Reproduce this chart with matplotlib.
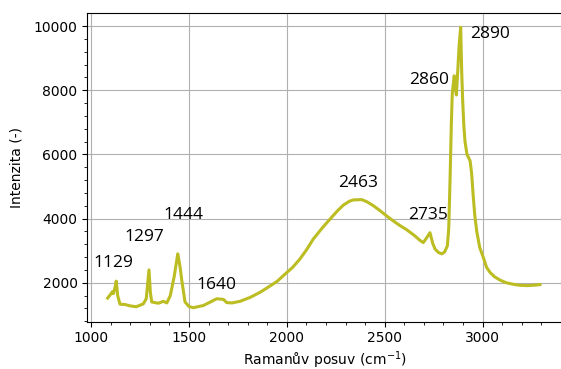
import matplotlib
matplotlib.use("Agg")
import matplotlib.pyplot as plt
from matplotlib.ticker import MultipleLocator

# Raman shift (cm^-1) and intensity
shift = [1085, 1100, 1109, 1114, 1120, 1129, 1136, 1148, 1174, 1199, 1230, 1267,
         1282, 1296, 1303, 1310, 1344, 1369, 1387, 1405, 1425, 1443, 1449, 1455,
         1463, 1480, 1500, 1522, 1574, 1610, 1642, 1676, 1693, 1720, 1761, 1812,
         1863, 1897, 1950, 1991, 2030, 2067, 2100, 2135, 2180, 2229, 2260, 2289,
         2320, 2340, 2383, 2410, 2442, 2475, 2510, 2545, 2578, 2610, 2650, 2680,
         2697, 2712, 2731, 2745, 2757, 2775, 2791, 2805, 2820, 2827, 2834, 2840,
         2845, 2855, 2862, 2866, 2873, 2880, 2888, 2893, 2898, 2904, 2910, 2920,
         2936, 2944, 2952, 2960, 2970, 2985, 3004, 3020, 3038, 3060, 3089, 3120,
         3157, 3190, 3225, 3260, 3293]
intensity = [1520, 1640, 1720, 1660, 1780, 2050, 1600, 1330, 1320, 1280, 1250, 1340,
             1500, 2400, 1700, 1400, 1360, 1420, 1370, 1600, 2200, 2900, 2700, 2480,
             2100, 1400, 1260, 1221, 1290, 1400, 1500, 1480, 1380, 1370, 1420, 1540,
             1700, 1830, 2040, 2270, 2480, 2740, 3020, 3360, 3700, 4040, 4250, 4420,
             4540, 4580, 4590, 4520, 4400, 4250, 4080, 3920, 3780, 3660, 3480, 3320,
             3250, 3380, 3560, 3230, 3050, 2940, 2900, 2950, 3150, 3700, 5300, 6900,
             7900, 8450, 8000, 7850, 8600, 9400, 9960, 8600, 7700, 6900, 6400, 6000,
             5800, 5400, 4700, 4100, 3600, 3100, 2780, 2480, 2320, 2190, 2080, 2000,
             1950, 1920, 1910, 1920, 1940]

peak_labels = ["1129", "1297", "1444", "1640", "2463", "2735", "2860", "2890"]
label_x = [1012, 1170, 1369, 1536, 2260, 2621, 2624, 2936]
label_y = [2614, 3433, 4109, 1928, 5115, 4109, 8314, 9745]

fig = plt.figure(figsize=(5.61, 3.69), dpi=100)
ax = fig.add_axes([87.3 / 561, 1 - 321.7 / 369, 475.8 / 561, 308.4 / 369])

ax.plot(shift, intensity, color="#bcbd22", lw=2.2)

for t, x, y in zip(peak_labels, label_x, label_y):
    ax.text(x, y, t, fontsize=12.5, family="Open Sans", ha="left", va="center")

ax.set_xlim(981, 3411)
ax.set_ylim(785, 10396)
ax.set_xticks([1000, 1500, 2000, 2500, 3000])
ax.set_yticks([2000, 4000, 6000, 8000, 10000])
ax.xaxis.set_minor_locator(MultipleLocator(100))
ax.yaxis.set_minor_locator(MultipleLocator(400))
ax.grid(True, which="major", color="#b0b0b0", lw=0.8)
ax.set_axisbelow(True)
ax.tick_params(labelsize=10)
ax.set_xlabel("Ramanův posuv (cm$^{-1}$)", fontsize=10, labelpad=3)
ax.set_ylabel("Intenzita (-)", fontsize=10, labelpad=7)

fig.savefig("out.png", dpi=100)
